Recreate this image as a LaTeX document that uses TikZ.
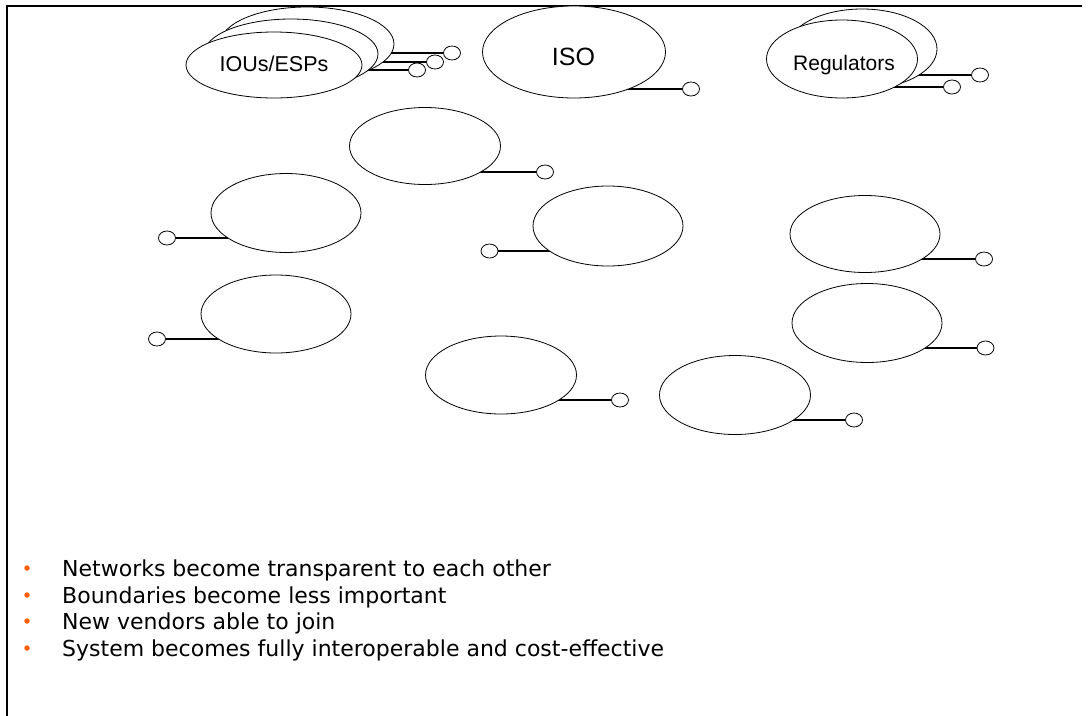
\documentclass[tikz,border=0pt]{standalone}
\usepackage{fontspec}
\setmainfont{Liberation Sans}
\newfontfamily\listfont{DejaVu Sans}
\usetikzlibrary{shapes.geometric}
\definecolor{bulletorange}{RGB}{255,95,10}
\pgfdeclarelayer{bg}
\pgfsetlayers{bg,main}
\begin{document}
\begin{tikzpicture}[x=1pt,y=-1pt,
  oval/.style={draw, ellipse, fill=white, line width=0.8pt, inner sep=0pt, minimum width=150pt, minimum height=78pt},
  knob/.style={draw, ellipse, fill=white, line width=0.8pt, inner sep=0pt, minimum width=17pt, minimum height=14pt},
  wire/.style={line width=1.1pt},
  lbl/.style={anchor=base, inner sep=0pt},
  bultext/.style={anchor=base west, inner sep=0pt, font=\listfont\fontsize{22}{26}\selectfont},
  bulmark/.style={anchor=center, circle, fill=bulletorange, inner sep=0pt, minimum size=5.5pt}]
\useasboundingbox (0,0) rectangle (1091,715);
% frame
\draw[line width=2.2pt] (1082,6) -- (7,6) -- (7,716);

% IOUs/ESPs stack
\node[oval, minimum width=174pt, minimum height=74pt] (iouB) at (307,44) {};
\node[oval, minimum width=174pt, minimum height=70pt] (iouM) at (291,54) {};
\node[oval, minimum width=176pt, minimum height=66pt] (iouF) at (274,65) {};
\node[lbl, font=\fontsize{21.5}{26}\selectfont] (iouL) at (274,71) {IOUs/ESPs};
\node[knob] (kiB) at (452,53) {};
\node[knob] (kiM) at (435,62) {};
\node[knob] (kiF) at (417,70) {};

% ISO
\node[oval, minimum width=183pt, minimum height=92pt] (iso) at (574,52) {};
\node[lbl, font=\fontsize{25}{30}\selectfont] (isoL) at (573.5,65) {ISO};
\node[knob] (kiso) at (691,89) {};

% Regulators
\node[oval, minimum width=150pt, minimum height=80pt] (regB) at (862,49) {};
\node[oval, minimum width=151pt, minimum height=78pt] (regF) at (842,59) {};
\node[lbl, font=\fontsize{21}{25}\selectfont] (regL) at (844,70) {Regulators};
\node[knob] (krB) at (980,75) {};
\node[knob] (krF) at (952,87) {};

% plain ovals
\node[oval, minimum width=151pt, minimum height=77pt] (A) at (425,146) {};
\node[knob] (kA) at (545,172) {};
\node[oval, minimum height=79pt] (B) at (286,213) {};
\node[knob] (kB) at (167,238) {};
\node[oval] (C) at (276,314) {};
\node[knob] (kC) at (157,339) {};
\node[oval, minimum height=80pt] (D) at (608,226) {};
\node[knob] (kD) at (489.5,251) {};
\node[oval, minimum height=77pt] (E) at (865,234) {};
\node[knob] (kE) at (984,259) {};
\node[oval, minimum height=79pt] (F) at (867,323) {};
\node[knob] (kF) at (985.5,348) {};
\node[oval, minimum width=151pt, minimum height=79pt] (G) at (735,395) {};
\node[knob] (kG) at (854,420) {};
\node[oval, minimum width=151pt] (H) at (501,375) {};
\node[knob] (kH) at (620,400) {};

% connectors (behind the ovals)
\begin{pgfonlayer}{bg}
\draw[wire] (kiB.west) -- (kiB.west -| iouB.center);
\draw[wire] (kiM.west) -- (kiM.west -| iouM.center);
\draw[wire] (kiF.west) -- (kiF.west -| iouF.center);
\draw[wire] (kiso.west) -- (kiso.west -| iso.center);
\draw[wire] (krB.west) -- (krB.west -| regB.center);
\draw[wire] (krF.west) -- (krF.west -| regF.center);
\draw[wire] (kA.west) -- (kA.west -| A.center);
\draw[wire] (kB.east) -- (kB.east -| B.center);
\draw[wire] (kC.east) -- (kC.east -| C.center);
\draw[wire] (kD.east) -- (kD.east -| D.center);
\draw[wire] (kE.west) -- (kE.west -| E.center);
\draw[wire] (kF.west) -- (kF.west -| F.center);
\draw[wire] (kG.west) -- (kG.west -| G.center);
\draw[wire] (kH.west) -- (kH.west -| H.center);
\end{pgfonlayer}

% bullet list
\node[bulmark] (b1) at (27,568) {};
\node[bultext] (t1) at (62,576) {Networks become transparent to each other};
\node[bulmark] (b2) at (27,595) {};
\node[bultext] (t2) at (62,603) {Boundaries become less important};
\node[bulmark] (b3) at (27,621) {};
\node[bultext] (t3) at (62,629) {New vendors able to join};
\node[bulmark] (b4) at (27,648) {};
\node[bultext] (t4) at (62,656) {System becomes fully interoperable and cost-effective};
\end{tikzpicture}
\end{document}
